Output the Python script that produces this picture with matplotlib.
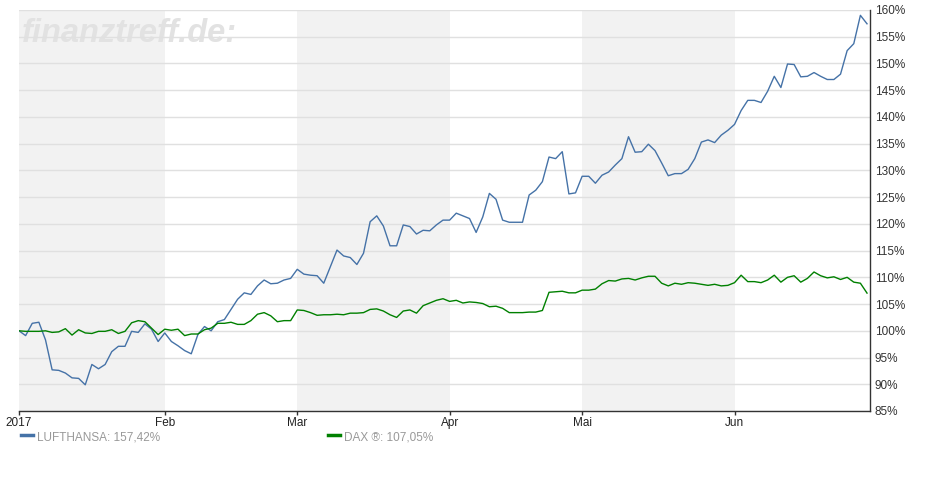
import numpy as np
import pandas as pd
import matplotlib.pyplot as plt
from matplotlib.lines import Line2D

# colors
lh_color = '#4572A7'
dax_color = '#008000'
shade_color = '#F2F2F2'
grid_color = '#E0E0E0'

# trading days (weekdays) from 2 Jan 2017
dates = pd.bdate_range('2017-01-02', periods=129)

# performance in % (start = 100)
lufthansa = [100.0, 99.1, 101.4, 101.6, 98.3, 92.7, 92.6, 92.1, 91.2, 91.1,
             89.9, 93.7, 92.9, 93.7, 96.1, 97.1, 97.1, 99.9, 99.7, 101.3,
             100.3, 98.0, 99.6, 98.0, 97.2, 96.3, 95.7, 99.3, 100.8, 100.0,
             101.7, 102.1, 104.0, 105.9, 107.1, 106.8, 108.4, 109.5, 108.8, 108.9,
             109.5, 109.8, 111.5, 110.6, 110.4, 110.3, 108.9, 112.0, 115.1, 114.0,
             113.7, 112.4, 114.5, 120.4, 121.5, 119.6, 115.9, 115.9, 119.8, 119.5,
             118.1, 118.8, 118.7, 119.8, 120.7, 120.7, 122.0, 121.5, 121.0, 118.4,
             121.3, 125.7, 124.6, 120.7, 120.3, 120.3, 120.3, 125.4, 126.3, 127.9,
             132.5, 132.2, 133.5, 125.6, 125.8, 128.9, 128.9, 127.6, 129.1, 129.7,
             131.0, 132.2, 136.3, 133.4, 133.5, 134.9, 133.7, 131.4, 129.0, 129.4,
             129.4, 130.2, 132.2, 135.3, 135.7, 135.2, 136.6, 137.5, 138.6, 141.2,
             143.1, 143.1, 142.7, 144.8, 147.6, 145.5, 149.9, 149.8, 147.5, 147.6,
             148.3, 147.6, 147.0, 147.0, 148.0, 152.4, 153.7, 159.0, 157.42]

dax = [100.0, 99.9, 99.9, 99.9, 100.0, 99.7, 99.8, 100.4, 99.2, 100.2,
       99.6, 99.5, 99.9, 99.9, 100.2, 99.5, 99.9, 101.5, 101.9, 101.7,
       100.5, 99.3, 100.3, 100.1, 100.3, 99.1, 99.4, 99.4, 100.2, 100.5,
       101.4, 101.4, 101.6, 101.2, 101.2, 101.9, 103.1, 103.4, 102.8, 101.7,
       101.9, 101.9, 103.9, 103.8, 103.4, 102.9, 103.0, 103.0, 103.1, 103.0,
       103.3, 103.3, 103.4, 104.0, 104.1, 103.7, 103.0, 102.5, 103.7, 103.9,
       103.3, 104.7, 105.2, 105.7, 106.0, 105.5, 105.7, 105.2, 105.4, 105.3,
       105.1, 104.5, 104.6, 104.2, 103.4, 103.4, 103.4, 103.5, 103.5, 103.8,
       107.2, 107.3, 107.4, 107.1, 107.1, 107.6, 107.6, 107.8, 108.8, 109.4,
       109.3, 109.7, 109.8, 109.5, 109.9, 110.2, 110.2, 108.9, 108.4, 108.9,
       108.7, 109.0, 108.9, 108.7, 108.5, 108.7, 108.4, 108.5, 109.0, 110.4,
       109.2, 109.2, 109.0, 109.5, 110.4, 109.1, 110.0, 110.3, 109.1, 109.8,
       111.0, 110.3, 109.9, 110.1, 109.6, 110.0, 109.1, 108.9, 107.05]

month_labels = ['2017', 'Feb', 'Mar', 'Apr', 'Mai', 'Jun']
y_ticks = [85, 90, 95, 100, 105, 110, 115, 120, 125, 130, 135, 140, 145, 150, 155, 160]
legend_labels = ['LUFTHANSA: 157,42%', 'DAX \u00ae: 107,05%']

plt.rcParams['font.family'] = ['Liberation Sans', 'DejaVu Sans']

fig = plt.figure(figsize=(9.4, 5), dpi=100)
ax = fig.add_axes([19 / 940, 1 - 411 / 500, (870 - 19) / 940, 401 / 500])

x = np.arange(len(dates))

# index of first trading day in each month
month_start = [0] + [i for i in range(1, len(dates)) if dates[i].month != dates[i - 1].month]
bounds = month_start + [len(dates) - 1]

# shade every other month
for k in range(0, len(month_start), 2):
    ax.axvspan(bounds[k], bounds[k + 1], color=shade_color, lw=0, zorder=0)

ax.plot(x, lufthansa, color=lh_color, lw=1.0, zorder=3)
ax.plot(x, dax, color=dax_color, lw=1.0, zorder=3)

ax.set_xlim(0, len(dates) - 1 + 0.45)
ax.set_ylim(85, 160)

# y axis on the right side
ax.yaxis.tick_right()
ax.set_yticks(y_ticks)
ax.set_yticklabels([f'{t}%' for t in y_ticks])
ax.tick_params(axis='y', length=0, pad=3.5, labelsize=8.5, labelcolor='#333333')
ax.yaxis.grid(True, color=grid_color, lw=1)
ax.set_axisbelow(True)

ax.set_xticks(month_start)
ax.set_xticklabels(month_labels)
ax.tick_params(axis='x', length=3, width=1, color='#333333', pad=1.5, labelsize=8.5, labelcolor='#222222')

for side in ['top', 'left']:
    ax.spines[side].set_visible(False)
for side in ['right', 'bottom']:
    ax.spines[side].set_color('#333333')
    ax.spines[side].set_linewidth(1)

# watermark
ax.text(3 / 851, 1 - 32 / 401, 'finanztreff.de:', transform=ax.transAxes,
        fontsize=23.5, fontweight='bold', style='italic', color='#E2E2E2',
        va='baseline', ha='left', zorder=0.4)

# legend below the chart
fig.add_artist(Line2D([21 / 940, 33 / 940], [1 - 435 / 500] * 2, color=lh_color, lw=2.5))
fig.text(37 / 940, 1 - 438 / 500, legend_labels[0], fontsize=8.5, color='#999999', va='center')
fig.add_artist(Line2D([328 / 940, 340 / 940], [1 - 435 / 500] * 2, color=dax_color, lw=2.5))
fig.text(344 / 940, 1 - 438 / 500, legend_labels[1], fontsize=8.5, color='#999999', va='center')

plt.savefig('out.png', dpi=100)
